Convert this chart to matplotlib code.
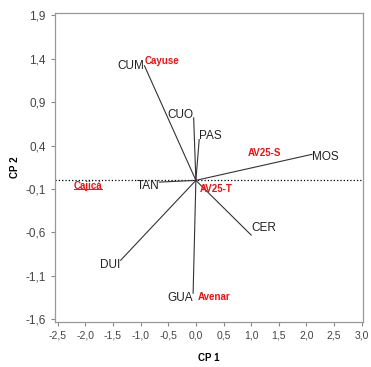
import matplotlib.pyplot as plt
from matplotlib.ticker import FuncFormatter
from matplotlib.lines import Line2D

plt.rcParams['font.family'] = ['Liberation Sans', 'DejaVu Sans']

# variable loadings (CP 1, CP 2)
variables = ['CUM', 'CUO', 'PAS', 'MOS', 'TAN', 'DUI', 'GUA', 'CER']
cp1 = [-0.93, -0.04, 0.06, 2.10, -0.66, -1.36, -0.05, 1.00]
cp2 = [1.32, 0.72, 0.47, 0.30, -0.02, -0.92, -1.30, -0.63]

# cultivar scores
cultivars = ['Cayuse', 'AV25-S', 'Cajicá', 'AV25-T', 'Avenar']
cult_x = [-0.92, 0.94, -2.21, 0.07, 0.04]
cult_y = [1.37, 0.31, -0.06, -0.10, -1.34]

# how each variable label sits against its arrow tip
label_align = ['right', 'right', 'left', 'left', 'right', 'right', 'right', 'left']
label_dy = [0.0, 0.03, 0.04, -0.03, -0.05, -0.05, -0.05, 0.08]

fig = plt.figure(figsize=(3.71, 3.67), dpi=100)
ax = fig.add_axes([0.148, 0.123, 0.83, 0.842])

ax.axhline(0, color='black', linestyle=':', linewidth=0.9, zorder=1)

for name, x, y, ha, dy in zip(variables, cp1, cp2, label_align, label_dy):
    ax.plot([0, x], [0, y], color='#333333', linewidth=0.8)
    ax.text(x, y + dy, name, ha=ha, va='center', fontsize=8.5, color='#222222')

cult_texts = []
for name, x, y in zip(cultivars, cult_x, cult_y):
    t = ax.text(x, y, name, ha='left', va='center', fontsize=7,
                color='#ee1111', fontweight='bold')
    cult_texts.append(t)

ax.set_xlim(-2.55, 3.02)
ax.set_ylim(-1.63, 1.93)
ax.set_xticks([-2.5, -2.0, -1.5, -1.0, -0.5, 0.0, 0.5, 1.0, 1.5, 2.0, 2.5, 3.0])
ax.set_yticks([-1.6, -1.1, -0.6, -0.1, 0.4, 0.9, 1.4, 1.9])
fmt = FuncFormatter(lambda v, p: ('%.1f' % v).replace('.', ','))
ax.xaxis.set_major_formatter(fmt)
ax.yaxis.set_major_formatter(fmt)
ax.tick_params(axis='x', labelsize=7.5)
ax.tick_params(axis='y', labelsize=8.5)
ax.tick_params(colors='#888888', labelcolor='#444444', length=3, width=0.8)

for s in ax.spines.values():
    s.set_color('#999999')
    s.set_linewidth(0.9)

ax.set_xlabel('CP 1', fontsize=7, fontweight='bold', labelpad=9)
ax.set_ylabel('CP 2', fontsize=7, fontweight='bold', labelpad=4)

# underline under Cajicá, as in the original
fig.canvas.draw()
bb = cult_texts[2].get_window_extent().transformed(fig.transFigure.inverted())
fig.add_artist(Line2D([bb.x0, bb.x1], [bb.y0 + 0.003, bb.y0 + 0.003],
                      color='#ee1111', linewidth=0.7))

fig.savefig('out.png', dpi=100)
